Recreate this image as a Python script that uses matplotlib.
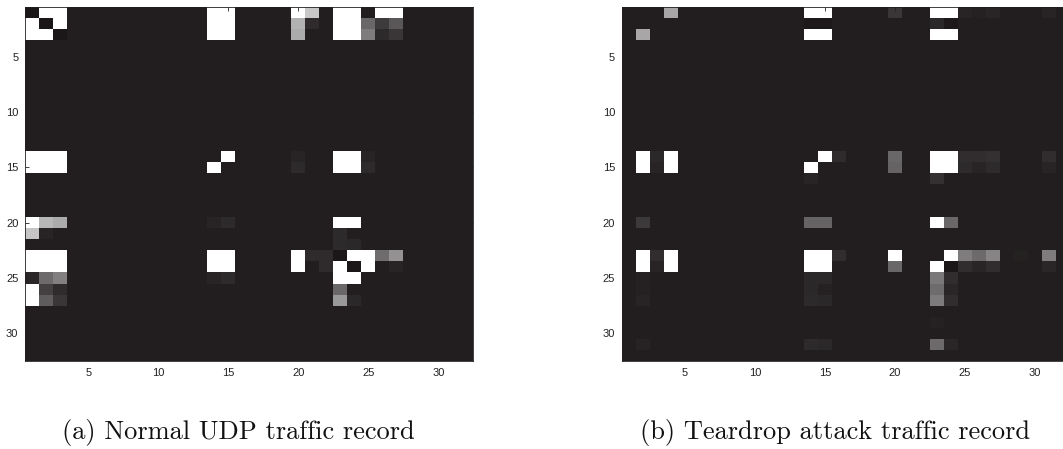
import numpy as np
import matplotlib
matplotlib.use("Agg")
from matplotlib import pyplot as plt
from matplotlib.colors import LinearSegmentedColormap

# grid is 32 x 32, background level of an "empty" cell
n = 32
bg = 0.035

# (a) normal UDP record: row, column (1-based) and intensity of non-empty cells
a_rows = [1, 1, 1, 1, 1, 1, 1, 1, 1, 1, 1,
          2, 2, 2, 2, 2, 2, 2, 2, 2, 2, 2, 2,
          3, 3, 3, 3, 3, 3, 3, 3, 3, 3, 3,
          14, 14, 14, 14, 14, 14, 14, 14,
          15, 15, 15, 15, 15, 15, 15, 15,
          20, 20, 20, 20, 20, 20, 20,
          21, 21, 21,
          22, 22,
          23, 23, 23, 23, 23, 23, 23, 23, 23, 23, 23, 23, 23,
          24, 24, 24, 24, 24, 24, 24, 24, 24, 24, 24,
          25, 25, 25, 25, 25, 25, 25,
          26, 26, 26, 26,
          27, 27, 27, 27, 27]
a_cols = [1, 2, 3, 14, 15, 20, 21, 23, 24, 26, 27,
          1, 2, 3, 14, 15, 20, 21, 23, 24, 25, 26, 27,
          1, 2, 3, 14, 15, 20, 23, 24, 25, 26, 27,
          1, 2, 3, 15, 20, 23, 24, 25,
          1, 2, 3, 14, 20, 23, 24, 25,
          1, 2, 3, 14, 15, 23, 24,
          1, 2, 23,
          23, 24,
          1, 2, 3, 14, 15, 20, 21, 22, 23, 24, 25, 26, 27,
          1, 2, 3, 14, 15, 20, 22, 23, 24, 25, 27,
          1, 2, 3, 14, 15, 23, 24,
          1, 2, 3, 23,
          1, 2, 3, 23, 24]
a_vals = [0.0, 1, 1, 1, 1, 1, 0.76, 1, 1, 1, 1,
          1, 0.0, 1, 1, 1, 0.67, 0.09, 1, 1, 0.35, 0.16, 0.28,
          1, 1, 0.0, 1, 1, 0.64, 1, 1, 0.44, 0.085, 0.14,
          1, 1, 1, 1, 0.06, 1, 1, 0.06,
          1, 1, 1, 1, 0.085, 1, 1, 0.085,
          1, 0.69, 0.64, 0.06, 0.085, 1, 1,
          0.75, 0.06, 0.085,
          0.085, 0.075,
          1, 1, 1, 1, 1, 1, 0.09, 0.09, 0.0, 1, 1, 0.37, 0.53,
          1, 1, 1, 1, 1, 1, 0.09, 1, 0.0, 1, 0.06,
          0.07, 0.36, 0.45, 0.06, 0.085, 1, 1,
          1, 0.18, 0.09, 0.35,
          1, 0.30, 0.14, 0.56, 0.075]

# (b) teardrop attack record
b_rows = [1, 1, 1, 1, 1, 1, 1, 1, 1, 1,
          2, 2, 2, 2,
          3, 3, 3, 3, 3,
          14, 14, 14, 14, 14, 14, 14, 14, 14, 14, 14, 14,
          15, 15, 15, 15, 15, 15, 15, 15, 15, 15, 15,
          16, 16,
          20, 20, 20, 20, 20,
          23, 23, 23, 23, 23, 23, 23, 23, 23, 23, 23, 23, 23,
          24, 24, 24, 24, 24, 24, 24, 24, 24, 24, 24, 24,
          25, 25, 25, 25, 25,
          26, 26, 26, 26, 26,
          27, 27, 27, 27, 27,
          29,
          31, 31, 31, 31, 31]
b_cols = [4, 14, 15, 20, 23, 24, 25, 26, 27, 31,
          14, 15, 23, 24,
          2, 14, 15, 23, 24,
          2, 3, 4, 15, 16, 20, 23, 24, 25, 26, 27, 31,
          2, 3, 4, 14, 20, 23, 24, 25, 26, 27, 31,
          14, 23,
          2, 14, 15, 23, 24,
          2, 3, 4, 14, 15, 16, 20, 24, 25, 26, 27, 29, 31,
          2, 3, 4, 14, 15, 20, 23, 24, 25, 26, 27, 31,
          2, 14, 15, 23, 24,
          2, 14, 15, 23, 24,
          2, 14, 15, 23, 24,
          23,
          2, 14, 15, 23, 24]
b_vals = [0.62, 1, 1, 0.14, 1, 1, 0.06, 0.05, 0.065, 0.06,
          0.015, 0.015, 0.075, 0.015,
          0.62, 1, 1, 1, 1,
          1, 0.075, 1, 1, 0.09, 0.35, 1, 1, 0.1, 0.1, 0.11, 0.1,
          1, 0.06, 1, 1, 0.33, 1, 1, 0.085, 0.06, 0.085, 0.06,
          0.06, 0.11,
          0.15, 0.33, 0.33, 1, 0.35,
          1, 0.1, 1, 1, 1, 0.1, 1, 1, 0.44, 0.36, 0.47, 0.045, 0.44,
          1, 0.06, 1, 1, 1, 0.35, 1, 0.0, 0.1, 0.065, 0.1, 0.07,
          0.05, 0.075, 0.075, 0.42, 0.1,
          0.05, 0.075, 0.05, 0.37, 0.07,
          0.06, 0.085, 0.075, 0.43, 0.1,
          0.048,
          0.055, 0.085, 0.075, 0.36, 0.07]

ticks = [5, 10, 15, 20, 25, 30]
captions = ["(a) Normal UDP traffic record", "(b) Teardrop attack traffic record"]


def build(rows, cols, vals):
    m = np.full((n, n), bg)
    for r, c, v in zip(rows, cols, vals):
        m[r - 1, c - 1] = v
    return m


cmap = LinearSegmentedColormap.from_list("g", [(27/255, 23/255, 24/255), (1, 1, 1)])

W, H = 1063, 449
fig = plt.figure(figsize=(W/100, H/100), dpi=100)

boxes = [(25.3, 7, 448, 353.7), (622, 7, 448, 353.7)]
mats = [build(a_rows, a_cols, a_vals), build(b_rows, b_cols, b_vals)]

for (x0, y0, w, h), m in zip(boxes, mats):
    ax = fig.add_axes([x0/W, 1 - (y0 + h)/H, w/W, h/H])
    ax.imshow(m, cmap=cmap, vmin=0, vmax=1, extent=(0.5, n + 0.5, n + 0.5, 0.5),
              aspect='auto', interpolation='nearest')
    ax.set_xticks(ticks)
    ax.set_yticks(ticks)
    ax.tick_params(direction='in', top=True, right=True, length=3, width=0.6,
                   color='#222', labelsize=8, labelcolor='#222', pad=5)
    for lab in ax.get_xticklabels() + ax.get_yticklabels():
        lab.set_family('Liberation Sans')
    for s in ax.spines.values():
        s.set_color('#231f20')
        s.set_linewidth(0.6)

fig.text(238/W, 1 - 432/H, captions[0], family='cmr10', fontsize=19,
         ha='center', va='center', color='#111')
fig.text(835/W, 1 - 432/H, captions[1], family='cmr10', fontsize=19,
         ha='center', va='center', color='#111')

fig.savefig('out.png', dpi=100)
